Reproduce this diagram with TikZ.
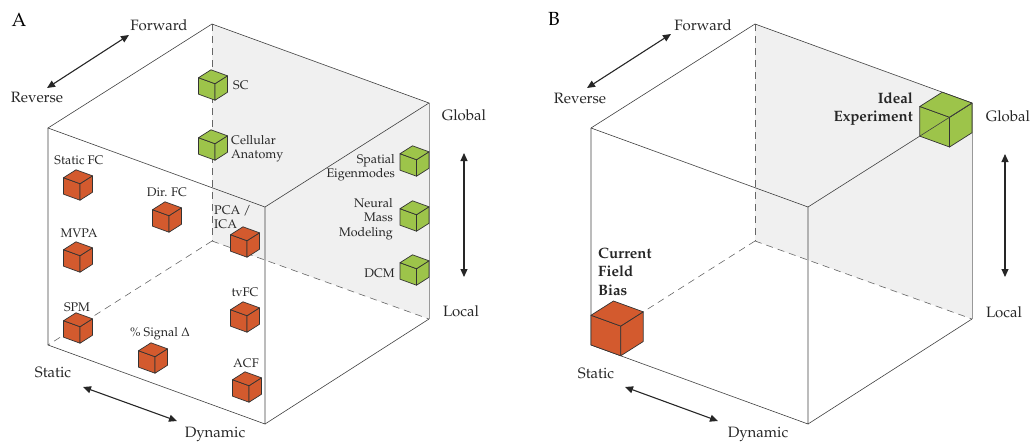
\documentclass[tikz,border=0pt]{standalone}
\usepackage[T1]{fontenc}
\usepackage{mathpazo}
\usetikzlibrary{arrows.meta,positioning}

\definecolor{redcube}{HTML}{D35A2E}
\definecolor{greencube}{HTML}{9DC44A}
\definecolor{backface}{HTML}{F0F0F0}

\begin{document}
\begin{tikzpicture}[x=1pt, y=-1pt,
		edge/.style={draw=black!75, line width=0.6pt},
		hidden/.style={draw=black!60, line width=0.6pt, dash pattern=on 7pt off 5pt},
		backedge/.style={draw=black!40, line width=0.8pt},
		plane/.style={fill=backface, draw=none},
		axis/.style={{Triangle[length=8pt,width=7pt]}-{Triangle[length=8pt,width=7pt]}, line width=1.1pt, draw=black!85},
		axislabel/.style={font=\fontsize{15}{17}\selectfont, inner sep=0pt, anchor=base, text=black!85},
		method/.style={font=\fontsize{12.5}{14.5}\selectfont, inner sep=0pt, anchor=base, text=black!85},
		goal/.style={font=\fontsize{15}{18.7}\selectfont\bfseries, inner sep=0pt, text=black!85},
		panel/.style={font=\fontsize{19}{20}\selectfont, inner sep=0pt, anchor=base},
		cubeline/.style={draw=black!80, line width=0.7pt, line join=round},
		pics/minicube/.style={code={
			\draw[cubeline, fill=#1] (-190.5,121) -- (-190.5,-96) -- (26.5,-17) -- (26.5,200) -- cycle;
			\draw[cubeline, fill=#1] (26.5,200) -- (26.5,-17) -- (190.5,-121) -- (190.5,96) -- cycle;
			\draw[cubeline, fill=#1] (-190.5,-96) -- (-26.5,-200) -- (190.5,-121) -- (26.5,-17) -- cycle;
		}},
		]
		\useasboundingbox (0,0) rectangle (1031,442);

		%Cube A
		\coordinate (aFBL) at (48,345);
		\coordinate (aFTL) at (48,128);
		\coordinate (aFTR) at (265,207);
		\coordinate (aFBR) at (265,424);
		\coordinate (aBTL) at (212,24);
		\coordinate (aBTR) at (429,103);
		\coordinate (aBBR) at (429,319);
		\coordinate (aBBL) at (212,241);
		\fill[plane] (aBTL) -- (aBTR) -- (aBBR) -- (aBBL) -- cycle;
		\draw[hidden] (aBTL) -- (aBBL);
		\draw[hidden] (aBBL) -- (aFBL);
		\draw[hidden] (aBBL) -- (aBBR);
		\draw[backedge] (aBTR) -- (aBBR);
		\draw[edge] (aFTL) -- (aBTL) -- (aBTR) -- (aFTR) -- cycle;
		\draw[edge] (aFTL) -- (aFBL) -- (aFBR) -- (aFTR);
		\draw[edge] (aFBR) -- (aBBR);

		%Axes A
		\node[panel]		(pa)		at (19,26)		{A};
		\node[axislabel]	(fwdA)		at (159,30)		{Forward};
		\node[axislabel]	(revA)		at (37,102)		{Reverse};
		\node[axislabel]	(glbA)		at (464,120)	{Global};
		\node[axislabel]	(locA)		at (461,316)	{Local};
		\node[axislabel]	(staA)		at (53,377)		{Static};
		\node[axislabel]	(dynA)		at (215,437)	{Dynamic};
		\coordinate (fwdtipA) at (129,35);
		\coordinate (revtipA) at (47,88);
		\coordinate (glbtipA) at (464,153);
		\coordinate (loctipA) at (464,277);
		\coordinate (statipA) at (83,387);
		\coordinate (dyntipA) at (177,421);
		\draw[axis] (revtipA) -- (fwdtipA);
		\draw[axis] (glbtipA) -- (loctipA);
		\draw[axis] (statipA) -- (dyntipA);

		%Methods
		\pic[scale=0.076] at (213,85)	{minicube=greencube};
		\pic[scale=0.076] at (213,145)	{minicube=greencube};
		\pic[scale=0.076] at (78,185)	{minicube=redcube};
		\pic[scale=0.076] at (167,217)	{minicube=redcube};
		\pic[scale=0.076] at (78,257)	{minicube=redcube};
		\pic[scale=0.076] at (245,242)	{minicube=redcube};
		\pic[scale=0.076] at (78,328)	{minicube=redcube};
		\pic[scale=0.076] at (153,358)	{minicube=redcube};
		\pic[scale=0.076] at (245,317)	{minicube=redcube};
		\pic[scale=0.076] at (247,387)	{minicube=redcube};
		\pic[scale=0.076] at (414.5,161)	{minicube=greencube};
		\pic[scale=0.076] at (414.5,216)	{minicube=greencube};
		\pic[scale=0.076] at (414.5,270)	{minicube=greencube};

		\node[method, anchor=base west]	(sc)		at (233,89)		{SC};
		\node[method, align=left, anchor=north west]	(cell)	at (231,135)	{Cellular\\Anatomy};
		\node[method]	(sfc)		at (79,164)		{Static FC};
		\node[method]	(dfc)		at (167,196)	{Dir. FC};
		\node[method]	(mvpa)		at (79,237)		{MVPA};
		\node[method, align=left, anchor=north west]	(pca)	at (214,205)	{PCA /\\ICA};
		\node[method]	(spm)		at (77,311)		{SPM};
		\node[method]	(sig)		at (160,336)	{\% Signal $\Delta$};
		\node[method]	(tvfc)		at (245,296)	{tvFC};
		\node[method]	(acf)		at (246,367)	{ACF};
		\node[method, align=right, anchor=north east]	(eig)	at (395,154)	{Spatial\\Eigenmodes};
		\node[method, align=right, anchor=north east]	(nmm)	at (393,198)	{Neural\\Mass\\Modeling};
		\node[method, anchor=base east]	(dcm)		at (395,277)	{DCM};

		%Cube B
		\coordinate (bFBL) at (591,345);
		\coordinate (bFTL) at (591,128);
		\coordinate (bFTR) at (808,207);
		\coordinate (bFBR) at (808,424);
		\coordinate (bBTL) at (755,24);
		\coordinate (bBTR) at (972,103);
		\coordinate (bBBR) at (972,319);
		\coordinate (bBBL) at (755,241);
		\fill[plane] (bBTL) -- (bBTR) -- (bBBR) -- (bBBL) -- cycle;
		\draw[hidden] (bBTL) -- (bBBL);
		\draw[hidden] (bBBL) -- (bFBL);
		\draw[hidden] (bBBL) -- (bBBR);
		\draw[backedge] (bBTR) -- (bBBR);
		\draw[edge] (bFTL) -- (bBTL) -- (bBTR);
		\draw[edge] (bFTL) -- (bFTR);
		\draw[edge] (bFTL) -- (bFBL) -- (bFBR) -- (bFTR);
		\draw[edge] (bFBR) -- (bBBR);

		%Axes B
		\node[panel]		(pb)		at (554,25)		{B};
		\node[axislabel]	(fwdB)		at (703,30)		{Forward};
		\node[axislabel]	(revB)		at (580,103)	{Reverse};
		\node[axislabel]	(glbB)		at (1008,121)	{Global};
		\node[axislabel]	(locB)		at (1004,317)	{Local};
		\node[axislabel]	(staB)		at (596,378)	{Static};
		\node[axislabel]	(dynB)		at (758,437)	{Dynamic};
		\coordinate (fwdtipB) at (671,34);
		\coordinate (revtipB) at (587,88);
		\coordinate (glbtipB) at (1005,154);
		\coordinate (loctipB) at (1005,277);
		\coordinate (statipB) at (625,387);
		\coordinate (dyntipB) at (718,421);
		\draw[axis] (revtipB) -- (fwdtipB);
		\draw[axis] (glbtipB) -- (loctipB);
		\draw[axis] (statipB) -- (dyntipB);

		%Bias vs Ideal
		\pic[scale=0.137] at (617.1,328.4)	{minicube=redcube};
		\pic[scale=0.137] at (945.9,119.6)	{minicube=greencube};
		\draw[edge] (bFTR) -- (bBTR);
		\node[goal, align=left, anchor=north west]	(bias)	at (598,247.4)	{Current\\Field\\Bias};
		\node[goal, align=right, anchor=north east]	(ideal)	at (913,92)	{Ideal\\Experiment};

	\end{tikzpicture}
\end{document}
